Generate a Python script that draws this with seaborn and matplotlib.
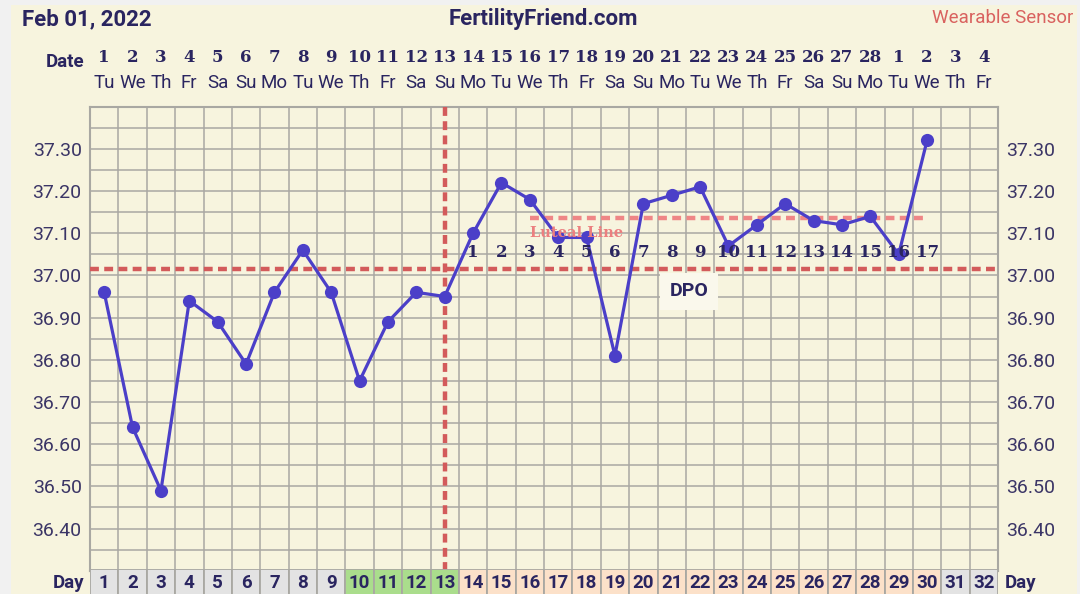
import numpy as np
import pandas as pd
import matplotlib
matplotlib.use("Agg")
import matplotlib.pyplot as plt
import seaborn as sns
from matplotlib.patches import Rectangle
from matplotlib.ticker import FormatStrFormatter

# ---- chart data ----
cycle_days = [1, 2, 3, 4, 5, 6, 7, 8, 9, 10, 11, 12, 13, 14, 15, 16,
              17, 18, 19, 20, 21, 22, 23, 24, 25, 26, 27, 28, 29, 30, 31, 32]
date_labels = ["1", "2", "3", "4", "5", "6", "7", "8", "9", "10", "11", "12",
               "13", "14", "15", "16", "17", "18", "19", "20", "21", "22", "23",
               "24", "25", "26", "27", "28", "1", "2", "3", "4"]
weekday_labels = ["Tu", "We", "Th", "Fr", "Sa", "Su", "Mo",
                  "Tu", "We", "Th", "Fr", "Sa", "Su", "Mo",
                  "Tu", "We", "Th", "Fr", "Sa", "Su", "Mo",
                  "Tu", "We", "Th", "Fr", "Sa", "Su", "Mo",
                  "Tu", "We", "Th", "Fr"]
temps = [36.96, 36.64, 36.49, 36.94, 36.89, 36.79, 36.96, 37.06, 36.96, 36.75,
         36.89, 36.96, 36.95, 37.10, 37.22, 37.18, 37.09, 37.09, 36.81, 37.17,
         37.19, 37.21, 37.07, 37.12, 37.17, 37.13, 37.12, 37.14, 37.05, 37.32]
fertile_days = [10, 11, 12, 13]
post_ov_days = [14, 15, 16, 17, 18, 19, 20, 21, 22, 23, 24, 25, 26, 27, 28, 29, 30]
dpo_labels = ["1", "2", "3", "4", "5", "6", "7", "8", "9", "10", "11", "12",
              "13", "14", "15", "16", "17"]
ovulation_day = 13
coverline = 37.015
luteal_level = 37.135
luteal_span = [16, 30]
temp_ticks = [36.40, 36.50, 36.60, 36.70, 36.80, 36.90, 37.00, 37.10, 37.20, 37.30]

# ---- colours ----
cream = "#f7f4de"
navy = "#2a2560"
grid_c = "#a9a8a2"
line_c = "#4b3fc8"
red_c = "#d35b5b"
pink_c = "#ef8686"

sns.set_style("white")
plt.rcParams['font.family'] = ['Roboto', 'DejaVu Sans']

fig = plt.figure(figsize=(10.8, 5.94), dpi=100, facecolor="#f1f1f1")
bg = Rectangle((11 / 1080, 0), 1066 / 1080, 1 - 5 / 594,
               transform=fig.transFigure, facecolor=cream,
               edgecolor="none", zorder=-10)
fig.add_artist(bg)

# main temperature panel
ax = fig.add_axes([90 / 1080, 1 - 570.7 / 594, 908 / 1080, 464 / 594])
ax.set_facecolor(cream)

df = pd.DataFrame({"day": cycle_days[:len(temps)], "temp": temps})
sns.lineplot(data=df, x="day", y="temp", ax=ax, color=line_c, linewidth=2.3,
             marker="o", markersize=9.5, markeredgewidth=0, zorder=5)

ax.set_xlim(0.5, 32.5)
ax.set_ylim(36.30, 37.40)
ax.set_xticks(np.arange(0.5, 33, 1))
ax.set_yticks(temp_ticks)
ax.set_yticks(np.arange(36.30, 37.41, 0.05), minor=True)
ax.yaxis.set_major_formatter(FormatStrFormatter("%.2f"))
ax.grid(which="both", color=grid_c, linewidth=1.1)
ax.set_axisbelow(True)
ax.tick_params(axis="x", length=0, labelbottom=False)
ax.tick_params(axis="y", which="both", length=0, labelleft=True, labelright=True,
               labelsize=14, labelcolor="#3b3566", pad=6)
ax.set_xlabel("")
ax.set_ylabel("")
for s in ax.spines.values():
    s.set_color(grid_c)
    s.set_linewidth(1.5)

# coverline, ovulation line, luteal line
dash = (0, (2.0, 1.2))
ax.axhline(coverline, color=red_c, lw=3.2, ls=dash, zorder=3)
ax.axvline(ovulation_day, color=red_c, lw=3.2, ls=dash, zorder=3)
ax.plot(luteal_span, [luteal_level, luteal_level], color=pink_c, lw=3.2, ls=dash, zorder=3)
ax.text(luteal_span[0], 37.10, "Luteal Line", ha="left", va="center",
        family="DejaVu Serif", fontweight="bold", fontsize=10.5, color="#ec7f7f", zorder=6)

# DPO numbers
for d, lab in zip(post_ov_days, dpo_labels):
    ax.text(d, 37.055, lab, ha="center", va="center", family="DejaVu Serif",
            fontweight="heavy", fontsize=12, color=navy, zorder=6)
ax.text(21.6, 36.962, "DPO", ha="center", va="center", fontsize=14,
        fontweight="bold", color=navy, zorder=6,
        bbox=dict(boxstyle="square,pad=0.5", fc="#faf8ec", ec="none"))

# date rows on top
xt = ax.get_xaxis_transform()
for d, lab, wd in zip(cycle_days, date_labels, weekday_labels):
    ax.text(d, 1.106, lab, transform=xt, ha="center", va="center",
            family="DejaVu Serif", fontweight="heavy", fontsize=12, color=navy)
    ax.text(d, 1.051, wd, transform=xt, ha="center", va="center",
            fontsize=13.5, color=navy)

# day row at bottom
ax2 = fig.add_axes([90 / 1080, -2 / 594, 908 / 1080, 26.7 / 594])
cell_colors = []
for d in cycle_days:
    if d in fertile_days:
        cell_colors.append("#aadd8c")
    elif d in post_ov_days:
        cell_colors.append("#fce1c9")
    else:
        cell_colors.append("#e3e3e3")
ax2.bar(cycle_days, [1] * len(cycle_days), width=1, color=cell_colors,
        edgecolor=grid_c, linewidth=1.3)
for d in cycle_days:
    ax2.text(d, 0.5, str(d), ha="center", va="center", fontsize=13.5,
             fontweight="bold", color=navy)
ax2.set_xlim(0.5, 32.5)
ax2.set_ylim(0, 1)
ax2.axis("off")

# headers
fig.text(22 / 1080, 1 - 19.5 / 594, "Feb 01, 2022", ha="left", va="center",
         fontsize=16, fontweight="bold", color=navy)
fig.text(543 / 1080, 1 - 19.5 / 594, "FertilityFriend.com", ha="center", va="center",
         fontsize=16, fontweight="bold", color=navy)
fig.text(1073 / 1080, 1 - 18 / 594, "Wearable Sensor", ha="right", va="center",
         fontsize=13.5, color="#d9625f")
fig.text(84 / 1080, 1 - 62 / 594, "Date", ha="right", va="center",
         fontsize=13.5, fontweight="bold", color=navy)
fig.text(84 / 1080, 1 - 583 / 594, "Day", ha="right", va="center",
         fontsize=13.5, fontweight="bold", color=navy)
fig.text(1005 / 1080, 1 - 583 / 594, "Day", ha="left", va="center",
         fontsize=13.5, fontweight="bold", color=navy)

fig.savefig("out.png", dpi=100, facecolor=fig.get_facecolor())
